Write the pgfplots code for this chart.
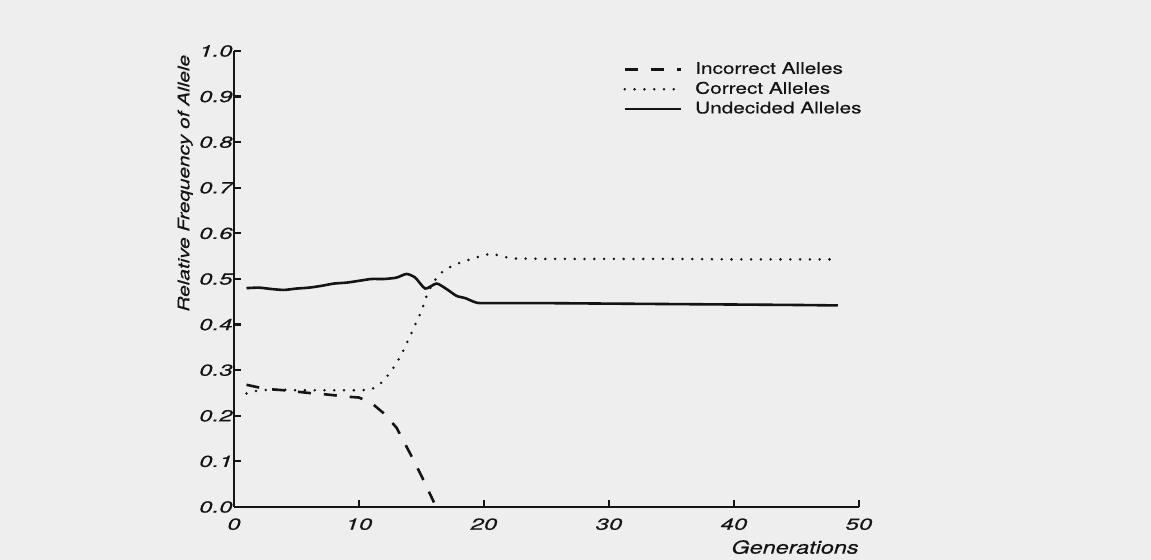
\documentclass[border=0pt]{standalone}
\usepackage{fontspec}
\setmainfont{TeX Gyre Heros}[FakeStretch=1.3, FakeBold=0.4]
\newfontfamily\tickfont{TeX Gyre Heros}[FakeStretch=1.5, FakeBold=0.5]
\usepackage{pgfplots}
\pgfplotsset{compat=1.18}
\definecolor{paper}{RGB}{238,238,238}
\definecolor{ink}{RGB}{20,20,20}
\begin{document}
\begin{tikzpicture}
\fill[paper] (-117pt,-26.5pt) rectangle (458.5pt,253.5pt);
\begin{axis}[
  at={(0pt,0pt)}, anchor=south west,
  scale only axis, width=312.5pt, height=228pt,
  xmin=0, xmax=50, ymin=0, ymax=1.0,
  axis lines=left,
  axis line style={-, line width=1.1pt, ink},
  tick align=inside,
  major tick length=3.5pt,
  every tick/.style={line width=1.1pt, ink},
  xtick={0,10,20,30,40,50},
  ytick={0,0.1,0.2,0.3,0.4,0.5,0.6,0.7,0.8,0.9,1.0},
  yticklabel style={/pgf/number format/fixed, /pgf/number format/precision=1, /pgf/number format/fixed zerofill, anchor=east, inner sep=0.5pt, font=\tickfont\itshape\fontsize{8}{9}\selectfont, text=ink},
  xticklabel style={anchor=north, inner sep=0pt, yshift=-5.5pt, font=\tickfont\itshape\fontsize{8}{9}\selectfont, text=ink},
  /pgf/number format/assume math mode=true,
  xlabel={Generations},
  xlabel style={at={(axis description cs:1.0,-0.088)}, anchor=east, inner sep=0pt, font=\itshape\fontsize{9}{10}\selectfont, text=ink},
  ylabel={Relative Frequency of Allele},
  ylabel style={at={(axis description cs:-0.078,0.71)}, anchor=center, rotate=0, inner sep=0pt, font=\itshape\fontsize{8}{9}\selectfont, text=ink},
  legend style={draw=none, fill=none, at={(axis description cs:0.6224,0.983)}, anchor=north west, inner sep=0pt, row sep=-0.5pt, font=\fontsize{8}{9}\selectfont, text=ink, nodes={inner sep=1.5pt}},
  legend cell align=left,
  legend image code/.code={\draw[#1] (0pt,0pt) -- (28pt,0pt); \path (33pt,0pt);},
  clip=false,
]
\addplot[ink, line width=1.3pt, dash pattern=on 6.5pt off 6.5pt] coordinates {
(1,0.268) (2,0.262) (3,0.258) (4,0.256) (5,0.253) (6,0.250) (7,0.248) (8,0.245) (9,0.242) (10,0.240)
(11,0.228) (12,0.205) (13,0.174) (14,0.122) (15,0.068) (16,0.01)
};
\addlegendentry{Incorrect Alleles}
\addplot[ink, line width=1.4pt, line cap=round, dash pattern=on 0pt off 4.9pt] coordinates {
(1,0.249) (2,0.256) (3,0.257) (4,0.257) (5,0.256) (6,0.256) (7,0.256) (8,0.256) (9,0.256) (10,0.256)
(10.9,0.257) (11.5,0.265) (12,0.278) (12.5,0.295) (13,0.315) (13.5,0.340) (14,0.370) (14.5,0.400)
(15,0.430) (15.5,0.470) (16,0.495) (16.5,0.512) (17,0.522) (17.8,0.533) (19,0.544) (20,0.552)
(20.6,0.556) (21.5,0.549) (22.3,0.545) (25,0.544) (30,0.544) (35,0.544) (40,0.543) (45,0.543) (48.2,0.543)
};
\addlegendentry{Correct Alleles}
\addplot[ink, line width=1.3pt, smooth, tension=0.4] coordinates {
(1,0.480) (2,0.481) (3,0.478) (4,0.476) (5,0.479) (6,0.481) (7,0.485) (8,0.490) (9,0.492) (10,0.496)
(11,0.500) (12,0.500) (13,0.503) (13.8,0.511) (14.5,0.503) (15.3,0.479) (16.2,0.490) (17,0.478)
(17.8,0.463) (18.5,0.458) (19.3,0.449) (20,0.447) (25,0.447) (30,0.446) (35,0.445) (40,0.444) (45,0.443) (48.3,0.442)
};
\addlegendentry{Undecided Alleles}
\end{axis}
\end{tikzpicture}
\end{document}
